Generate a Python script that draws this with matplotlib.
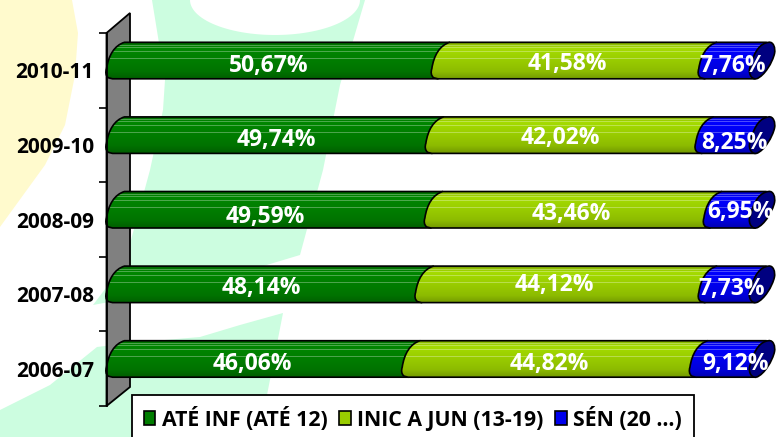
import numpy as np
import matplotlib
matplotlib.use('Agg')
import matplotlib.pyplot as plt
from matplotlib.path import Path
from matplotlib.patches import PathPatch, Polygon, Patch

years = ['2006-07', '2007-08', '2008-09', '2009-10', '2010-11']
ate_inf = [46.06, 48.14, 49.59, 49.74, 50.67]
inic_jun = [44.82, 44.12, 43.46, 42.02, 41.58]
sen = [9.12, 7.73, 6.95, 8.25, 7.76]
series_names = ['ATÉ INF (ATÉ 12)', 'INIC A JUN (13-19)', 'SÉN (20 …)']

colors = [(0, 0.49, 0), (0.6, 0.8, 0), (0, 0, 0.93)]

# small nudges of the value labels, in pixels (x right, y down)
nudge_x = [[-2, 0, 0, 10, 0], [3, -3, 7, 0, 2], [16, 8, 14, 12, 9]]
nudge_y = [[3, 2, 5, 3, 3], [3, -1, 2, 1, 1], [3, 3, 0, 6, 3]]

W, H = 778, 437
plt.rcParams['font.family'] = ['Open Sans', 'DejaVu Sans']
plt.rcParams['font.weight'] = 'bold'
fig = plt.figure(figsize=(W / 100, H / 100), dpi=100)

# faded logo behind the chart (pixel coords)
bg = fig.add_axes([0, 0, 1, 1], zorder=0)
bg.set_xlim(0, W)
bg.set_ylim(H, 0)
bg.axis('off')
mint = '#ccfde0'
bg.add_patch(Polygon([(0, 0), (72, 0), (78, 33), (75, 75), (65, 125), (45, 165), (0, 227)], fc='#fffacd', ec='none'))
bg.add_patch(Polygon([(152, 0), (165, 80), (163, 110), (150, 170), (131, 240), (112, 280), (93, 305), (200, 285),
                      (300, 255), (323, 170), (340, 85), (365, 0)], fc=mint, ec='none'))
t = np.linspace(0, np.pi, 60)
bg.add_patch(Polygon(np.column_stack([275 + 85 * np.cos(t), 0 + 35 * np.sin(t)]), fc='white', ec='none'))
bg.add_patch(Polygon([(0, 437), (0, 410), (50, 385), (97, 347), (130, 343), (200, 337), (240, 325), (283, 313),
                      (267, 395), (262, 437)], fc=mint, ec='none'))

# main axes: 0-100 across, one unit per year
PX_X = 6.42
PX_Y = 74.6
ax = fig.add_axes([106.5 / W, (H - 406) / H, 100 * PX_X / W, 5 * PX_Y / H], zorder=1)
ax.patch.set_visible(False)


def dx(px):
    return px / PX_X


def dy(px):
    return px / PX_Y


def shading(color, rows=37):
    f = np.interp(np.linspace(0, 1, rows), [0, 0.06, 0.15, 0.5, 0.8, 1], [0.72, 0.95, 1.08, 1, 0.92, 0.76])
    img = np.clip(np.outer(f, color), 0, 1)
    for r in [3, 5, 9, 16]:
        img[r] = img[r] * 0.7 + 0.3
    return img[:, None, :]


def segment_path(x0, x1, top, bot):
    verts = [(x0 + dx(6), bot), (x0 + dx(2), bot + dy(1)),
             (x0 - dx(1), bot + dy(3)), (x0 - dx(1), bot + dy(7)), (x0, bot + dy(10)),
             (x0 + dx(2), top - dy(13)), (x0 + dx(8), top - dy(3)), (x0 + dx(18), top),
             (x1 + dx(18), top), (x1 + dx(6), bot), (x0 + dx(6), bot)]
    codes = [Path.MOVETO, Path.LINETO, Path.CURVE4, Path.CURVE4, Path.CURVE4,
             Path.CURVE4, Path.CURVE4, Path.CURVE4, Path.LINETO, Path.LINETO, Path.CLOSEPOLY]
    return Path(verts, codes)


def cap_path(x, top, bot):
    verts = [(x + dx(8), bot),
             (x + dx(2), bot - dy(1)), (x - dx(1), bot + dy(7)), (x + dx(2), bot + dy(13)),
             (x + dx(6), top - dy(8)), (x + dx(12), top - dy(1)), (x + dx(20), top),
             (x + dx(25), top + dy(1)), (x + dx(27), top - dy(6)), (x + dx(26), top - dy(11)),
             (x + dx(24), top - dy(20)), (x + dx(16), bot + dy(3)), (x + dx(8), bot)]
    codes = [Path.MOVETO] + [Path.CURVE4] * 12
    return Path(verts, codes)


# grey side wall
ax.add_patch(Polygon([(0, -0.5), (dx(23.5), -0.5 + dy(19)), (dx(23.5), 4.5 + dy(20)), (0, 4.5)],
                     fc='#808080', ec='black', lw=1.3, clip_on=False, zorder=1))

series = [ate_inf, inic_jun, sen]
for i in range(len(years)):
    top = i + dy(28)
    bot = i - dy(8.5)
    left = 0
    for s in range(3):
        right = left + series[s][i]
        path = segment_path(left, right, top, bot)
        im = ax.imshow(shading(colors[s]), extent=(left - dx(3), right + dx(20), bot, top), aspect='auto',
                       interpolation='bilinear', zorder=2 + s)
        im.set_clip_path(PathPatch(path, transform=ax.transData, fc='none', ec='none'))
        im.set_clip_box(fig.bbox)
        ax.add_patch(PathPatch(path, fc='none', ec='black', lw=1.2, clip_on=False, zorder=2 + s))
        left = right
    ax.add_patch(PathPatch(cap_path(left, top, bot), fc='#000080', ec='black', lw=1.2, clip_on=False, zorder=5))

    left = 0
    for s in range(3):
        val = series[s][i]
        lab = ('%.2f%%' % val).replace('.', ',')
        ax.text(left + val / 2 + dx(nudge_x[s][i]), i + dy(7.7) - dy(nudge_y[s][i]), lab, color='white', fontsize=16.5,
                fontweight='bold', ha='center', va='center', zorder=6, clip_on=False)
        left += val

ax.set_xlim(0, 100)
ax.set_ylim(-0.5, 4.5)
ax.set_xticks([])
ax.set_yticks(range(5))
ax.set_yticklabels(years, fontsize=15, fontweight='bold')
ax.set_yticks(np.arange(-0.5, 5), minor=True)
ax.tick_params(axis='y', which='major', length=0, pad=9)
ax.tick_params(axis='y', which='minor', length=6, width=1.2)
for name in ['top', 'right', 'bottom']:
    ax.spines[name].set_visible(False)
ax.spines['left'].set_linewidth(1.3)

handles = [Patch(fc=colors[s], ec='black', lw=1.2, label=series_names[s]) for s in range(3)]
leg = ax.legend(handles=handles, ncol=3, loc='upper left', bbox_to_anchor=(132 / W, 1 - 395 / H),
                bbox_transform=fig.transFigure, frameon=True, fancybox=False, framealpha=1,
                edgecolor='black', borderaxespad=0, borderpad=0.55, handlelength=0.55, handleheight=0.6,
                handletextpad=0.3, columnspacing=0.55, prop={'family': 'Open Sans', 'weight': 'bold', 'size': 15.3})
leg.get_frame().set_linewidth(1.3)
leg.set_zorder(10)

fig.savefig('out.png', dpi=100)
